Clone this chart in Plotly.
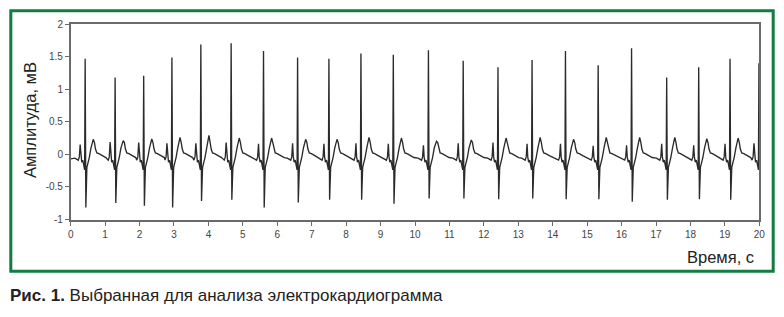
import plotly.graph_objects as go

# ---- data ----
# R-peak times (s), R amplitudes (mV), S amplitudes (mV), T amplitudes (mV), P amplitudes (mV)
r_times = [0.42, 1.29, 2.12, 2.94, 3.78, 4.66, 5.60, 6.59, 7.50, 8.43, 9.37,
           10.39, 11.40, 12.41, 13.40, 14.37, 15.32, 16.29, 17.31, 18.24, 19.15, 19.99]
r_peaks = [1.47, 1.18, 1.21, 1.49, 1.69, 1.71, 1.59, 1.49, 1.47, 1.55, 1.53,
           1.60, 1.44, 1.34, 1.45, 1.59, 1.37, 1.63, 1.18, 1.34, 1.47, 1.40]
s_troughs = [-0.82, -0.75, -0.79, -0.82, -0.72, -0.70, -0.82, -0.74, -0.70, -0.70, -0.76,
             -0.68, -0.68, -0.69, -0.68, -0.69, -0.69, -0.73, -0.70, -0.69, -0.70, -0.70]
t_peaks = [0.23, 0.21, 0.235, 0.26, 0.29, 0.25, 0.25, 0.23, 0.23, 0.26, 0.25,
           0.20, 0.22, 0.25, 0.26, 0.23, 0.26, 0.26, 0.26, 0.24, 0.25, 0.25]
p_peaks = [0.15, 0.19, 0.18, 0.17, 0.17, 0.18, 0.16, 0.17, 0.16, 0.17, 0.16,
           0.14, 0.17, 0.18, 0.16, 0.16, 0.13, 0.14, 0.16, 0.14, 0.16, 0.17]

# 'P', 'R', 'S', 'T' are replaced by the per-beat values above
beat_offsets = [-0.30, -0.20, -0.17, -0.145, -0.125, -0.10, -0.07, -0.04, -0.015,
                0.0, 0.02, 0.05, 0.08, 0.12, 0.17, 0.235, 0.27, 0.30, 0.34, 0.40, 0.50, 0.60]
beat_levels = [-0.06, -0.09, -0.04, 'P', -0.04, -0.12, -0.09, -0.18, -0.24,
               'R', 'S', -0.20, -0.15, -0.05, 0.10, 'T', 0.18, 0.08, 0.02, 0.01, -0.02, -0.05]

start_level = -0.07
x_ticks = list(range(0, 21))
y_ticks = [-1, -0.5, 0, 0.5, 1, 1.5, 2]
y_tick_text = ["-1", "-0.5", "0", "0.5", "1", "1.5", "2"]

# ---- assemble the trace from the values above ----
xs, ys = [0.0], [start_level]
for i, rt in enumerate(r_times):
    per = {'P': p_peaks[i], 'R': r_peaks[i], 'S': s_troughs[i], 'T': t_peaks[i]}
    for dt, lv in zip(beat_offsets, beat_levels):
        t = rt + dt
        if t > 20.0 or t <= xs[-1]:
            continue
        xs.append(t)
        ys.append(per[lv] if isinstance(lv, str) else lv)

W, H = 784, 317
def px(x):
    return x / W
def py(y):
    return (H - y) / H

FONT = "Liberation Sans, Arial, sans-serif"

fig = go.Figure()
fig.add_trace(go.Scatter(x=xs, y=ys, mode="lines",
                         line=dict(color="#2b2b2b", width=1.35),
                         hoverinfo="skip", showlegend=False))

axis_common = dict(showgrid=False, zeroline=False, showline=True, linecolor="#6a6a6a",
                   linewidth=1.5, mirror=True, ticks="outside", ticklen=4,
                   tickcolor="#6a6a6a", tickwidth=1, automargin=False,
                   tickfont=dict(family=FONT, size=10, color="#444444"))

fig.update_layout(
    width=W, height=H,
    margin=dict(l=0, r=0, t=0, b=0, pad=0, autoexpand=False),
    paper_bgcolor="white", plot_bgcolor="white",
    xaxis=dict(domain=[px(70.7), px(759.3)], range=[0, 20], tickvals=x_ticks,
               ticktext=[str(v) for v in x_ticks], anchor="y", **axis_common),
    yaxis=dict(domain=[py(219.8), py(24.3)], range=[-1.008, 2.0], tickvals=y_ticks,
               ticktext=y_tick_text, anchor="x", **axis_common),
    shapes=[dict(type="rect", xref="paper", yref="paper",
                 x0=px(10.8), x1=px(773.2), y0=py(271.2), y1=py(10.8),
                 line=dict(color="#137c42", width=3), fillcolor="rgba(0,0,0,0)", layer="below")],
    annotations=[
        dict(text="Амплитуда, мВ", xref="paper", yref="paper", x=px(30), y=py(120),
             textangle=-90, showarrow=False, xanchor="center", yanchor="middle",
             font=dict(family=FONT, size=16.5, color="#222222")),
        dict(text="Время, с", xref="paper", yref="paper", x=px(756), y=py(257),
             showarrow=False, xanchor="right", yanchor="middle",
             font=dict(family=FONT, size=16.5, color="#222222")),
        dict(text="<b>Рис. 1.</b> Выбранная для анализа электрокардиограмма",
             xref="paper", yref="paper", x=px(8), y=py(295),
             showarrow=False, xanchor="left", yanchor="middle",
             font=dict(family=FONT, size=17, color="#222222")),
    ],
)

fig.write_html("out.html")
